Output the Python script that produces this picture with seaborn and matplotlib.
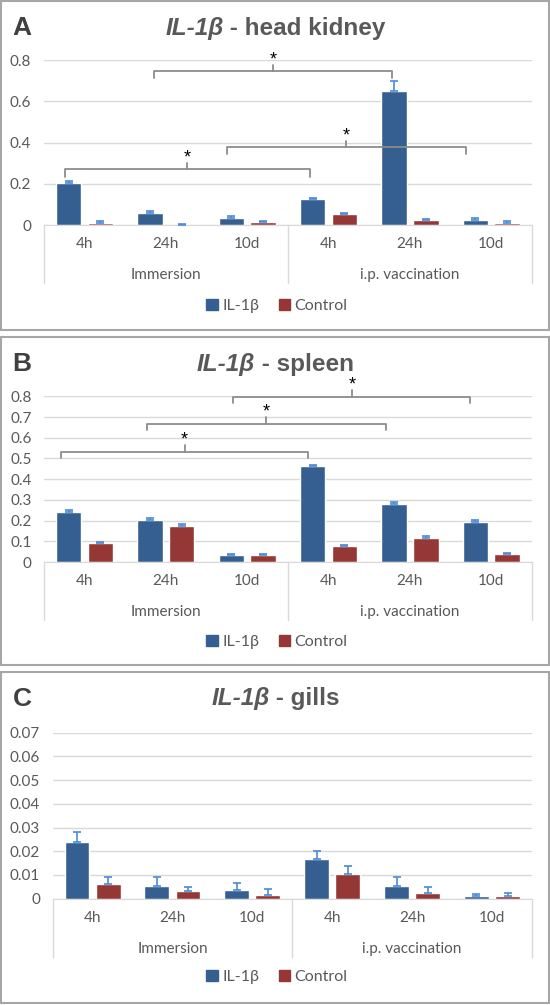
import numpy as np
import pandas as pd
import matplotlib
matplotlib.use("Agg")
import matplotlib.pyplot as plt
import matplotlib.patches as mpatches
import seaborn as sns

# --- data ---
times = ["4h", "24h", "10d", "4h", "24h", "10d"]
groups = ["Immersion", "i.p. vaccination"]
series = ["IL-1\u03b2", "Control"]

kidney_il = [0.206, 0.058, 0.037, 0.126, 0.652, 0.027]
kidney_il_err = [0.009, 0.010, 0.008, 0.008, 0.048, 0.007]
kidney_ctrl = [0.013, 0.002, 0.016, 0.055, 0.024, 0.013]
kidney_ctrl_err = [0.006, 0.004, 0.006, 0.003, 0.005, 0.006]

spleen_il = [0.243, 0.205, 0.034, 0.462, 0.282, 0.192]
spleen_il_err = [0.010, 0.009, 0.003, 0.007, 0.009, 0.009]
spleen_ctrl = [0.090, 0.176, 0.034, 0.076, 0.116, 0.037]
spleen_ctrl_err = [0.008, 0.009, 0.006, 0.006, 0.008, 0.006]

gills_il = [0.0240, 0.0055, 0.0037, 0.0167, 0.0055, 0.0013]
gills_il_err = [0.0040, 0.0035, 0.0031, 0.0036, 0.0035, 0.0007]
gills_ctrl = [0.0062, 0.0031, 0.0015, 0.0103, 0.0022, 0.0013]
gills_ctrl_err = [0.0029, 0.0017, 0.0026, 0.0033, 0.0026, 0.0012]

# significance brackets: (x start, x end, height) in category units
kidney_brackets = [(0.86, 3.78, 0.747), (-0.24, 2.77, 0.271), (1.75, 4.69, 0.379)]
spleen_brackets = [(-0.29, 2.75, 0.533), (0.77, 3.70, 0.665), (1.83, 4.74, 0.797)]

blue = "#365F91"
red = "#953735"
err_col = "#4A8AD8"
txt_col = "#595959"
grid_col = "#D9D9D9"
brk_col = "#8C8C8C"

W, H = 550, 1005
sns.set_style("white")
plt.rcParams["font.family"] = ["Lato", "DejaVu Sans"]

fig = plt.figure(figsize=(W / 100, H / 100), dpi=100)


def fx(x):
    return x / W


def fy(y):
    return 1 - y / H


def panel(letter, organ, il, il_err, ctrl, ctrl_err, frame, plot, ymax, ystep,
          yfmt, brackets, leg_len, tick_len):
    fy0, fy1 = frame
    fig.patches.append(mpatches.Rectangle((fx(1), fy(fy1)), fx(548), (fy1 - fy0) / H,
                                          transform=fig.transFigure, fill=False,
                                          edgecolor="#A6A6A6", lw=1.5))
    x0, x1, yzero, ytop = plot
    ax = fig.add_axes([fx(x0), fy(yzero), (x1 - x0) / W, (yzero - ytop) / H])
    ax_h = yzero - ytop

    keys = [f"{i}_{t}" for i, t in enumerate(times)]  # unique keys, labels set later
    df = pd.DataFrame({
        "cat": keys * 2,
        "series": [series[0]] * 6 + [series[1]] * 6,
        "value": il + ctrl,
    })
    sns.barplot(data=df, x="cat", y="value", hue="series", order=keys,
                hue_order=series, palette=[blue, red], width=0.78, gap=0.2,
                errorbar=None, saturation=1, legend=False, ax=ax)
    for cont, errs in zip(ax.containers, [il_err, ctrl_err]):
        xs = [b.get_x() + b.get_width() / 2 for b in cont]
        hs = [b.get_height() for b in cont]
        ax.errorbar(xs, hs, yerr=[np.zeros(6), errs], fmt="none", ecolor=err_col,
                    elinewidth=1.2, capsize=3, capthick=1.2, zorder=3)

    ax.set_xlim(-0.5, 5.5)
    ax.set_ylim(0, ymax)
    ticks = np.arange(0, ymax + ystep / 2, ystep)
    ax.set_yticks(ticks, [("0" if t == 0 else yfmt.format(t)) for t in ticks])
    ax.yaxis.grid(True, color=grid_col, lw=1)
    ax.set_axisbelow(True)
    for s in ["top", "right", "left"]:
        ax.spines[s].set_visible(False)
    ax.spines["bottom"].set_color(grid_col)
    ax.set_xticks(range(6), times)
    ax.tick_params(axis="x", length=0, pad=8.5, labelsize=11, colors=txt_col)
    ax.tick_params(axis="y", length=0, pad=9, labelsize=11, colors=txt_col)
    ax.set_xlabel("")
    ax.set_ylabel("")

    # multi-level category axis
    depth = 58 / ax_h
    for xv in [-0.5, 2.5, 5.5]:
        ax.plot([xv, xv], [0, -depth], transform=ax.get_xaxis_transform(),
                color=grid_col, lw=1, clip_on=False)
    for gi, g in enumerate(groups):
        ax.text(1 + 3 * gi, -50 / ax_h, g, transform=ax.get_xaxis_transform(),
                ha="center", va="center", fontsize=11, color=txt_col)

    # significance brackets
    for xa, xb, h in brackets:
        xm = (xa + xb) / 2
        ax.plot([xa, xa, xb, xb], [h - leg_len, h, h, h - leg_len], color=brk_col,
                lw=1.3, clip_on=False, zorder=4)
        ax.plot([xm, xm], [h, h + tick_len], color=brk_col, lw=1.3,
                clip_on=False, zorder=4)
        ax.text(xm, h + tick_len + 0.75 * tick_len, "*", ha="center", va="center",
                fontsize=13, color="black", clip_on=False, family="Liberation Sans")

    # title
    ty = fy(fy0 + 27)
    t1 = fig.text(0, ty, "IL-1\u03b2", fontsize=17.5, fontweight="bold",
                  style="italic", color=txt_col, va="center", ha="left",
                  family="Liberation Sans")
    t2 = fig.text(0, ty, " - " + organ, fontsize=17.5, fontweight="bold",
                  color=txt_col, va="center", ha="left", family="Liberation Sans")
    fig.canvas.draw()
    r = fig.canvas.get_renderer()
    w1 = t1.get_window_extent(r).width
    w2 = t2.get_window_extent(r).width
    start = 275.5 - (w1 + w2) / 2
    t1.set_x(fx(start))
    t2.set_x(fx(start + w1))
    fig.text(fx(22), ty, letter, fontsize=19, fontweight="bold", color="#404040",
             ha="center", va="center", family="Liberation Sans")

    # legend
    handles = [mpatches.Patch(color=blue, label=series[0]),
               mpatches.Patch(color=red, label=series[1])]
    fig.legend(handles=handles, loc="center", ncol=2, frameon=False,
               bbox_to_anchor=(fx(277), fy(fy0 + 305)), fontsize=11.5,
               handlelength=0.7, handleheight=0.7, handletextpad=0.3,
               columnspacing=1.2, labelcolor=txt_col)
    return ax


panel("A", "head kidney", kidney_il, kidney_il_err, kidney_ctrl, kidney_ctrl_err,
      (1, 330), (43.8, 532, 225.3, 60), 0.8, 0.2, "{:.1f}",
      kidney_brackets, 0.035, 0.03)
panel("B", "spleen", spleen_il, spleen_il_err, spleen_ctrl, spleen_ctrl_err,
      (337, 665), (43.9, 532, 562, 396.3), 0.8, 0.1, "{:.1f}",
      spleen_brackets, 0.03, 0.033)
panel("C", "gills", gills_il, gills_il_err, gills_ctrl, gills_ctrl_err,
      (672, 1003), (52.6, 532, 898.7, 732.7), 0.07, 0.01, "{:.2f}",
      [], 0, 0)

fig.savefig("out.png", dpi=100)
